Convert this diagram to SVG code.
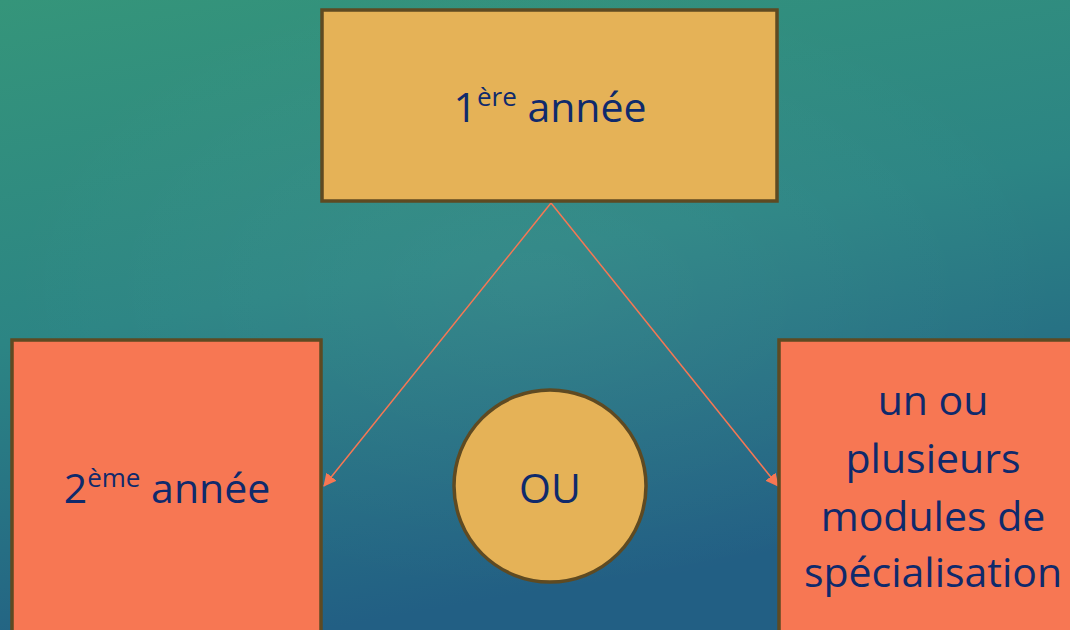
<svg xmlns="http://www.w3.org/2000/svg" width="1070" height="630" viewBox="0 0 1070 630">
<defs>
<linearGradient id="bg" x1="0" y1="0" x2="0.3" y2="1">
<stop offset="0" stop-color="#35957a"/>
<stop offset="0.5" stop-color="#2c8584"/>
<stop offset="1" stop-color="#225f84"/>
</linearGradient>
<radialGradient id="glow" cx="0.5" cy="0.45" r="0.5">
<stop offset="0" stop-color="#ffffff" stop-opacity="0.05"/>
<stop offset="1" stop-color="#ffffff" stop-opacity="0"/>
</radialGradient>
<marker id="ah" viewBox="0 0 12 12" refX="11" refY="6" markerWidth="13" markerHeight="13" markerUnits="userSpaceOnUse" orient="auto">
<path d="M0,0 L12,6 L0,12 Z" fill="#f77753"/>
</marker>
<style>
.box{stroke:#5e4a22;stroke-width:3.5}
.gold{fill:#e5b257}
.coral{fill:#f77753}
.t{font-family:"Open Sans","Noto Sans",sans-serif;fill:#0f2a6c;font-size:41px;text-anchor:middle}
.sup{font-size:26px}
.conn{stroke:#f77753;stroke-width:1.5;fill:none}
</style>
</defs>
<rect width="1070" height="630" fill="url(#bg)"/>
<rect width="1070" height="630" fill="url(#glow)"/>
<g id="connectors">
<line class="conn" x1="551" y1="203" x2="324" y2="486" marker-end="url(#ah)"/>
<line class="conn" x1="551" y1="203" x2="778" y2="486" marker-end="url(#ah)"/>
</g>
<g id="n1">
<rect class="box gold" x="322" y="10" width="455" height="191"/>
<text class="t" x="550" y="122">1<tspan class="sup" dy="-16">ère</tspan><tspan dy="16"> année</tspan></text>
</g>
<g id="n2">
<rect class="box coral" x="12" y="340" width="309" height="300"/>
<text class="t" x="167" y="503">2<tspan class="sup" dy="-16">ème</tspan><tspan dy="16"> année</tspan></text>
</g>
<g id="n3">
<circle class="box gold" cx="550" cy="486" r="96"/>
<text class="t" x="550" y="503">OU</text>
</g>
<g id="n4">
<rect class="box coral" x="779" y="340" width="300" height="300"/>
<text class="t" x="933" y="415">un ou</text>
<text class="t" x="933" y="473">plusieurs</text>
<text class="t" x="933" y="531">modules de</text>
<text class="t" x="933" y="587">spécialisation</text>
</g>
</svg>
